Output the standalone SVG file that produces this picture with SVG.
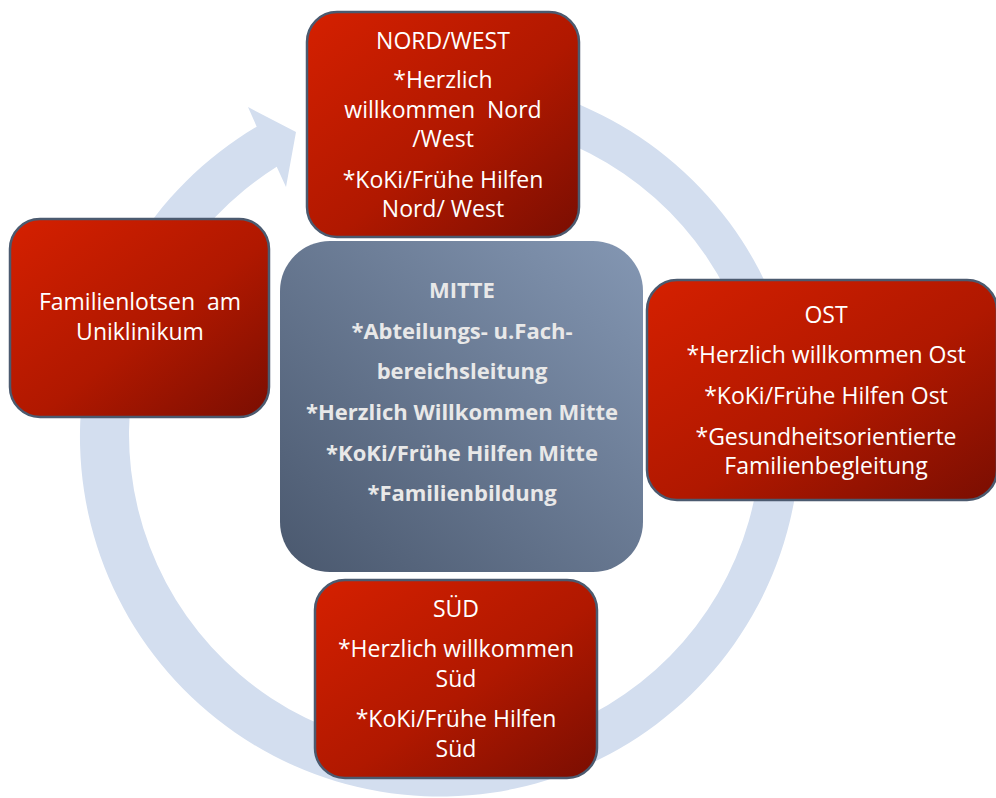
<svg xmlns="http://www.w3.org/2000/svg" width="996" height="798" viewBox="0 0 996 798">
<defs>
<linearGradient id="red" x1="0" y1="0" x2="1" y2="1">
<stop offset="0" stop-color="#d52000"/>
<stop offset="0.55" stop-color="#b01800"/>
<stop offset="1" stop-color="#7a0e02"/>
</linearGradient>
<linearGradient id="blue" x1="1" y1="0" x2="0" y2="1">
<stop offset="0" stop-color="#8497b3"/>
<stop offset="1" stop-color="#4a586e"/>
</linearGradient>
<style>
.box{fill:url(#red);stroke:#4b5a6f;stroke-width:2.5}
.mid{fill:url(#blue)}
.t{font-family:"Open Sans","Liberation Sans",sans-serif;font-size:23px;fill:#ffffff;text-anchor:middle}
.b{font-family:"Open Sans","Liberation Sans",sans-serif;font-size:22px;font-weight:bold;fill:#e8e8e8;text-anchor:middle}
</style>
</defs>
<g id="connectors">
<path d="M348.8,88.3 A360,360 0 1 1 256.7,126.7 L248,107 L296,132 L286,187 L276.7,166.7 A316,316 0 1 0 360,129.8 Z" fill="#d3deef"/>
</g>
<g id="mitte">
<rect class="mid" x="280" y="241" width="363" height="331" rx="50"/>
<text class="b" x="462" y="298">MITTE</text>
<text class="b" x="462" y="339">*Abteilungs- u.Fach-</text>
<text class="b" x="462" y="379">bereichsleitung</text>
<text class="b" x="462" y="420">*Herzlich Willkommen Mitte</text>
<text class="b" x="462" y="461">*KoKi/Frühe Hilfen Mitte</text>
<text class="b" x="462" y="501">*Familienbildung</text>
</g>
<g id="nordwest">
<rect class="box" x="307" y="12" width="272" height="225" rx="30"/>
<text class="t" x="443" y="49">NORD/WEST</text>
<text class="t" x="443" y="88">*Herzlich</text>
<text class="t" x="443" y="118" xml:space="preserve">willkommen  Nord</text>
<text class="t" x="443" y="147">/West</text>
<text class="t" x="443" y="188">*KoKi/Frühe Hilfen</text>
<text class="t" x="443" y="217">Nord/ West</text>
</g>
<g id="familienlotsen">
<rect class="box" x="10" y="219" width="259" height="198" rx="30"/>
<text class="t" x="140" y="310" xml:space="preserve">Familienlotsen  am</text>
<text class="t" x="140" y="340">Uniklinikum</text>
</g>
<g id="ost">
<rect class="box" x="647" y="280" width="350" height="220" rx="30"/>
<text class="t" x="826" y="323">OST</text>
<text class="t" x="826" y="363">*Herzlich willkommen Ost</text>
<text class="t" x="826" y="404">*KoKi/Frühe Hilfen Ost</text>
<text class="t" x="826" y="445">*Gesundheitsorientierte</text>
<text class="t" x="826" y="474">Familienbegleitung</text>
</g>
<g id="sued">
<rect class="box" x="315" y="580" width="282" height="198" rx="30"/>
<text class="t" x="456" y="617">SÜD</text>
<text class="t" x="456" y="657">*Herzlich willkommen</text>
<text class="t" x="456" y="687">Süd</text>
<text class="t" x="456" y="727">*KoKi/Frühe Hilfen</text>
<text class="t" x="456" y="757">Süd</text>
</g>
</svg>
